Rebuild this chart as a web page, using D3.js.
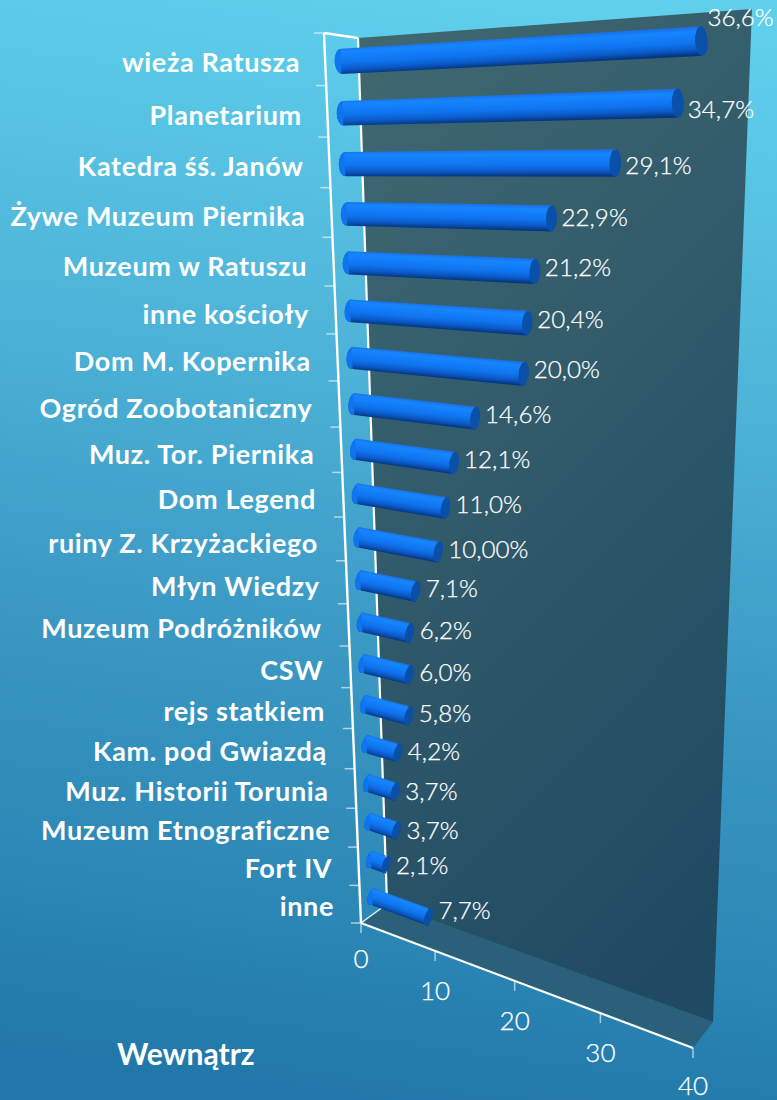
<!DOCTYPE html>
<html><head><meta charset="utf-8">
<script src="https://cdn.jsdelivr.net/npm/d3@7"></script>
<style>html,body{margin:0;padding:0;background:#3a9cc6;overflow:hidden}svg{display:block}</style>
</head><body><svg id="c" width="777" height="1100"></svg>
<script>
const categories=["wieża Ratusza","Planetarium","Katedra śś. Janów","Żywe Muzeum Piernika","Muzeum w Ratuszu","inne kościoły","Dom M. Kopernika","Ogród Zoobotaniczny","Muz. Tor. Piernika","Dom Legend","ruiny Z. Krzyżackiego","Młyn Wiedzy","Muzeum Podróżników","CSW","rejs statkiem","Kam. pod Gwiazdą","Muz. Historii Torunia","Muzeum Etnograficzne","Fort IV","inne"];
const values=[36.6,34.7,29.1,22.9,21.2,20.4,20.0,14.6,12.1,11.0,10.0,7.1,6.2,6.0,5.8,4.2,3.7,3.7,2.1,7.7];
const valueLabels=["36,6%","34,7%","29,1%","22,9%","21,2%","20,4%","20,0%","14,6%","12,1%","11,0%","10,00%","7,1%","6,2%","6,0%","5,8%","4,2%","3,7%","3,7%","2,1%","7,7%"];
const axisTicks=[0,10,20,30,40];
const title="Wewnątrz";

function quadMap(q){
  const [[x0,y0],[x1,y1],[x2,y2],[x3,y3]]=q; // (0,0),(1,0),(1,1),(0,1)
  const dx1=x1-x2,dx2=x3-x2,sx=x0-x1+x2-x3,dy1=y1-y2,dy2=y3-y2,sy=y0-y1+y2-y3;
  const den=dx1*dy2-dx2*dy1,g=(sx*dy2-dx2*sy)/den,h=(dx1*sy-sx*dy1)/den;
  const a=x1-x0+g*x1,b=x3-x0+h*x3,d=y1-y0+g*y1,e=y3-y0+h*y3;
  return (u,v)=>{const w=g*u+h*v+1;return[(a*u+b*v+x0)/w,(d*u+e*v+y0)/w];};
}
const x=d3.scaleLinear().domain([0,40]).range([0,1]);
const band=d3.scaleBand().domain(d3.range(categories.length)).range([0,1]);
const front=quadMap([[324,33],[725,11],[693,1048],[361,923]]);
const back=quadMap([[358,38],[752,9],[713,1022],[387,904]]);
const mid=quadMap([[340,35],[743,7],[702,1037],[373,915]]);

const svg=d3.select("#c");
const defs=svg.append("defs");
const bg=defs.append("linearGradient").attr("id","bg").attr("x1",.55).attr("y1",0).attr("x2",.45).attr("y2",1);
[[0,"#5fcfec"],[.3,"#4fb6da"],[.6,"#3a98c3"],[.85,"#2a86b4"],[1,"#2177a9"]].forEach(s=>bg.append("stop").attr("offset",s[0]).attr("stop-color",s[1]));
const wg=defs.append("linearGradient").attr("id","wall").attr("x1",.2).attr("y1",0).attr("x2",.6).attr("y2",1);
[[0,"#3e6770"],[.35,"#345d6c"],[1,"#1f4a62"]].forEach(s=>wg.append("stop").attr("offset",s[0]).attr("stop-color",s[1]));
svg.append("rect").attr("width",777).attr("height",1100).attr("fill","url(#bg)");

const line=d3.line();
const poly=pts=>line(pts)+"Z";
svg.append("path").attr("d",poly([back(0,0),back(1,0),back(1,1),back(0,1)])).attr("fill","url(#wall)");
svg.append("path").attr("d",poly([front(0,1),front(1,1),back(1,1),back(0,1)])).attr("fill","#2a6079");
const white=(p,w,o=1)=>svg.append("path").attr("d",line(p)).attr("fill","none").attr("stroke","#fff").attr("stroke-width",w).attr("stroke-opacity",o);
white([back(0,0),back(0,1)],2.2);
white([front(0,0),front(0,1)],2.4);
white([front(0,0),back(0,0)],2.4);
white([front(0,1),back(0,1)],1.5,.9);
white([front(0,1),front(1,1)],2.2);
d3.range(categories.length+1).forEach(i=>{
  const p=front(0,i/categories.length);
  white([[p[0]-10,p[1]],p],1.5,.6);
});
const tickDy=d3.scaleLinear().domain([0,10,30,40]).range([45,49,49,46.5]);
axisTicks.forEach(t=>{
  const p=front(x(t),1);
  white([p,[p[0],p[1]+10]],1.5,.6);
  svg.append("text").attr("x",p[0]).attr("y",p[1]+tickDy(t)).attr("text-anchor","middle")
    .attr("fill","#fff").attr("font-family","Lato").attr("font-weight",300).attr("stroke","#fff").attr("stroke-width",.25).attr("font-size",26).text(t);
});
const stops=[[0,"#1a72e6"],[.14,"#1586ff"],[.55,"#0f74ef"],[.8,"#0a5ac8"],[1,"#06367f"]];
const bars=svg.append("g");
values.forEach((val,i)=>{
  const t0=band(i)+band.bandwidth()*.26,h=band.bandwidth()*.48;
  const g=bars.append("g");
  const pA=mid(0,t0+h/2),pB=mid(x(val),t0+h/2);
  const dirx=pB[0]-pA[0],diry=pB[1]-pA[1],len=Math.hypot(dirx,diry);
  const ang=Math.atan2(diry,dirx)*180/Math.PI;
  const topL=mid(0,t0),botL=mid(0,t0+h),topR=mid(x(val),t0),botR=mid(x(val),t0+h);
  const rl=Math.hypot(topL[0]-botL[0],topL[1]-botL[1])/2,rr=Math.hypot(topR[0]-botR[0],topR[1]-botR[1])/2;
  const nx=-diry/len,ny=dirx/len,R=(rl+rr)/2*.98;
  const cx=(pA[0]+pB[0])/2,cy=(pA[1]+pB[1])/2;
  const lg=defs.append("linearGradient").attr("id","b"+i).attr("gradientUnits","userSpaceOnUse")
    .attr("x1",cx-nx*R).attr("y1",cy-ny*R).attr("x2",cx+nx*R).attr("y2",cy+ny*R);
  stops.forEach(s=>lg.append("stop").attr("offset",s[0]).attr("stop-color",s[1]));
  g.append("ellipse").attr("cx",pA[0]).attr("cy",pA[1]).attr("rx",rl*.5).attr("ry",rl*.98).attr("fill",`url(#b${i})`)
    .attr("transform",`rotate(${ang} ${pA[0]} ${pA[1]})`);
  g.append("ellipse").attr("cx",pA[0]).attr("cy",pA[1]).attr("rx",rl*.5).attr("ry",rl*.98).attr("fill","#0f74ef")
    .attr("transform",`rotate(${ang} ${pA[0]} ${pA[1]})`);
  g.append("path").attr("d",poly([topL,topR,botR,botL])).attr("fill",`url(#b${i})`);
  g.append("ellipse").attr("cx",pB[0]).attr("cy",pB[1]).attr("rx",rr*.42).attr("ry",rr).attr("fill","#0b50a8")
    .attr("transform",`rotate(${ang} ${pB[0]} ${pB[1]})`);
});
const labelX=d3.scaleLinear().domain([0,19]).range([300,334]);
const labelDy=d3.scaleLinear().domain([0,19]).range([11,19]);
categories.forEach((c,i)=>{
  const p=mid(0,band(i)+band.bandwidth()/2);
  svg.append("text").attr("x",labelX(i)).attr("y",p[1]+labelDy(i)).attr("text-anchor","end")
    .attr("fill","#fff").attr("font-family","Lato").attr("font-weight",700).attr("font-size",27).attr("letter-spacing",.65).text(c);
});
const valDy=d3.scaleLinear().domain([1,2,4,6,10,14,18,19]).range([14.4,10.7,4.5,4,5.7,6.5,9.6,2]);
valueLabels.forEach((c,i)=>{
  const p=mid(x(values[i]),band(i)+band.bandwidth()/2);
  svg.append("text").attr("x",p[0]+(i==0?6:10)).attr("y",p[1]+(i==0?-15:valDy(i))).attr("fill","#fff")
    .attr("font-family","Lato").attr("font-weight",300).attr("stroke","#fff").attr("stroke-width",.25).attr("font-size",24.2).text(c);
});
svg.append("text").attr("x",117).attr("y",1065).attr("fill","#fff").attr("font-family","Lato").attr("font-weight",700).attr("font-size",30).text(title);
</script></body></html>
